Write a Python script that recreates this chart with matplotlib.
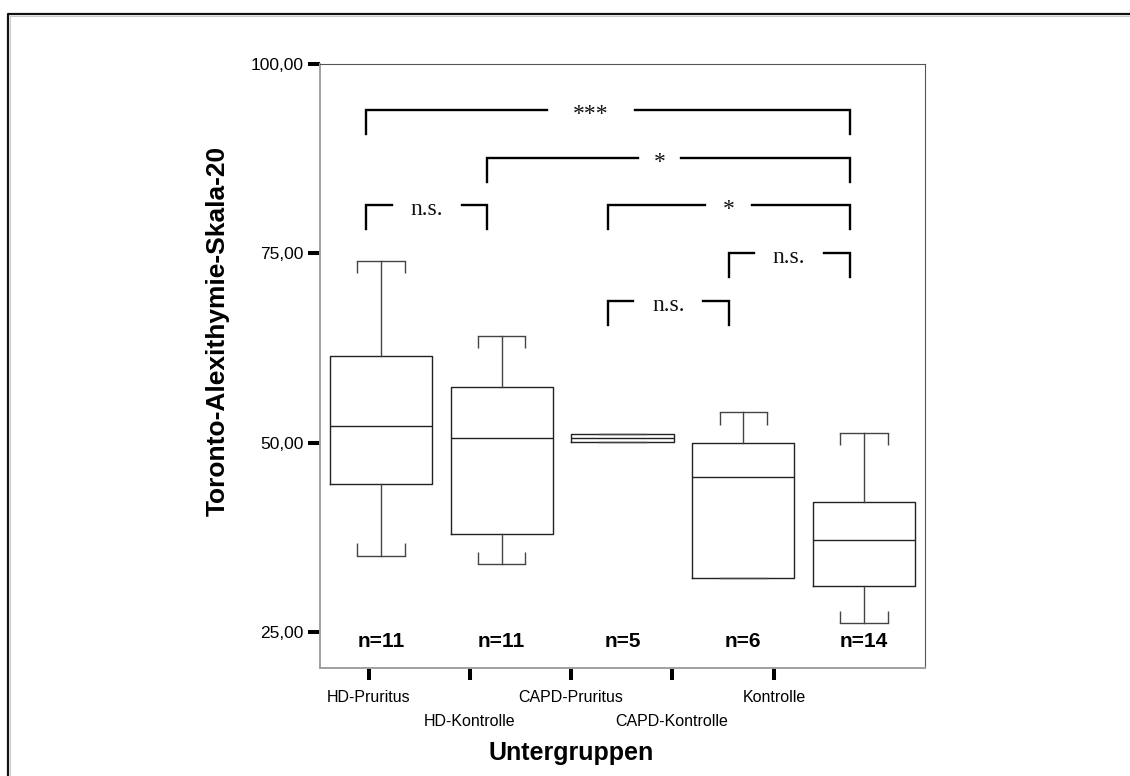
import matplotlib.pyplot as plt
from matplotlib.lines import Line2D

plt.rcParams['font.family'] = ['Liberation Sans', 'DejaVu Sans']

# groups and box statistics
groups = ["HD-Pruritus", "HD-Kontrolle", "CAPD-Pruritus", "CAPD-Kontrolle", "Kontrolle"]
n_sizes = [11, 11, 5, 6, 14]
whisker_low = [35.1, 34.0, 50.1, 32.1, 26.2]
q1 = [44.5, 37.9, 50.1, 32.1, 31.1]
median = [52.2, 50.6, 50.6, 45.5, 37.1]
q3 = [61.4, 57.4, 51.1, 50.0, 42.2]
whisker_high = [74.0, 64.1, 51.1, 54.0, 51.3]

# significance brackets: (from group, to group, label), 1-based
comparisons = [(1, 5, "***"), (2, 5, "*"), (1, 2, "n.s."),
               (3, 5, "*"), (4, 5, "n.s."), (3, 4, "n.s.")]
bracket_levels = [93.9, 87.6, 81.4, 81.4, 75.0, 68.7]
label_gap = [0.73, 0.36, 0.58, 0.39, 0.58, 0.58]
label_shift = [-0.14, -0.075, 0, 0, 0, 0]

yticks = [25, 50, 75, 100]
# tick marks on the x axis sit at different spots than the boxes
xtick_pos = [0.90, 1.737, 2.573, 3.41, 4.255]

W, H = 1130, 776
fig = plt.figure(figsize=(W / 100, H / 100), dpi=100)
ax = fig.add_axes([320 / W, 1 - 668 / H, 605 / W, 604 / H])

positions = list(range(1, len(groups) + 1))
stats = []
for i in range(len(groups)):
    stats.append(dict(med=median[i], q1=q1[i], q3=q3[i],
                      whislo=whisker_low[i], whishi=whisker_high[i], fliers=[]))

capw = 0.39
ax.bxp(stats, positions=positions, widths=0.845, capwidths=capw, showfliers=False,
       boxprops=dict(color='#222222', linewidth=1.0),
       whiskerprops=dict(color='#444444', linewidth=1.0),
       capprops=dict(color='#444444', linewidth=1.0),
       medianprops=dict(color='#222222', linewidth=1.0))

# SPSS style hooks at the cap ends
hook = 1.6
for p, lo, hi, b, t in zip(positions, whisker_low, whisker_high, q1, q3):
    ends = [p - capw / 2, p + capw / 2]
    if hi > t:
        ax.vlines(ends, hi - hook, hi, color='#444444', lw=1.0)
    if lo < b:
        ax.vlines(ends, lo, lo + hook, color='#444444', lw=1.0)

ax.set_xlim(0.495, 5.505)
ax.set_ylim(20.25, 100)

# n labels
for p, n in zip(positions, n_sizes):
    ax.text(p, 23.0, f"n={n}", ha='center', va='baseline',
            fontsize=15, fontweight='bold')

# brackets
drop = 3.17
for (a, b, lab), y, g, s in zip(comparisons, bracket_levels, label_gap, label_shift):
    x1 = a - 0.12
    x2 = b - 0.12
    xm = (x1 + x2) / 2 + s
    ax.plot([x1, x1, xm - g / 2], [y - drop, y, y], color='black', lw=1.7,
            solid_joinstyle='miter')
    ax.plot([xm + g / 2, x2, x2], [y, y, y - drop], color='black', lw=1.7,
            solid_joinstyle='miter')
    ax.text(xm, y - 1.32, lab, ha='center', va='baseline', fontsize=17,
            family='Liberation Serif', color='#111111')

# axes styling
ax.set_yticks(yticks)
ax.set_yticklabels([f"{t},00" for t in yticks], fontsize=12.5)
ax.tick_params(axis='y', length=8.6, width=2.9, pad=3, color='black')
ax.set_xticks(xtick_pos)
ax.tick_params(axis='x', length=8.6, width=2.9, labelbottom=False, color='black')
for i, (xp, g) in enumerate(zip(xtick_pos, groups)):
    yy = -0.0568 if i % 2 == 0 else -0.096
    ax.text(xp, yy, g, transform=ax.get_xaxis_transform(), ha='center',
            va='baseline', fontsize=11.5)

ax.spines['left'].set_color('#a0a0a0')
ax.spines['bottom'].set_color('#a0a0a0')
ax.spines['left'].set_linewidth(1.4)
ax.spines['bottom'].set_linewidth(1.4)
ax.spines['top'].set_color('#555555')
ax.spines['right'].set_color('#555555')

fig.text(218 / W, 1 - 331 / H, "Toronto-Alexithymie-Skala-20", rotation=90,
         ha='center', va='center', fontsize=19, fontweight='bold')
fig.text(571 / W, 1 - 760 / H, "Untergruppen", ha='center', va='baseline',
         fontsize=18, fontweight='bold')

# outer frame, cut off at the right and bottom
fig.add_artist(Line2D([9.5 / W, 9.5 / W, 1.0], [0.0, 1 - 15.5 / H, 1 - 15.5 / H],
                      transform=fig.transFigure, color='#cccccc', lw=0.8))
fig.add_artist(Line2D([8 / W, 8 / W, 1.0], [0.0, 1 - 14 / H, 1 - 14 / H],
                      transform=fig.transFigure, color='#111111', lw=1.6))

fig.savefig("out.png", dpi=100)
